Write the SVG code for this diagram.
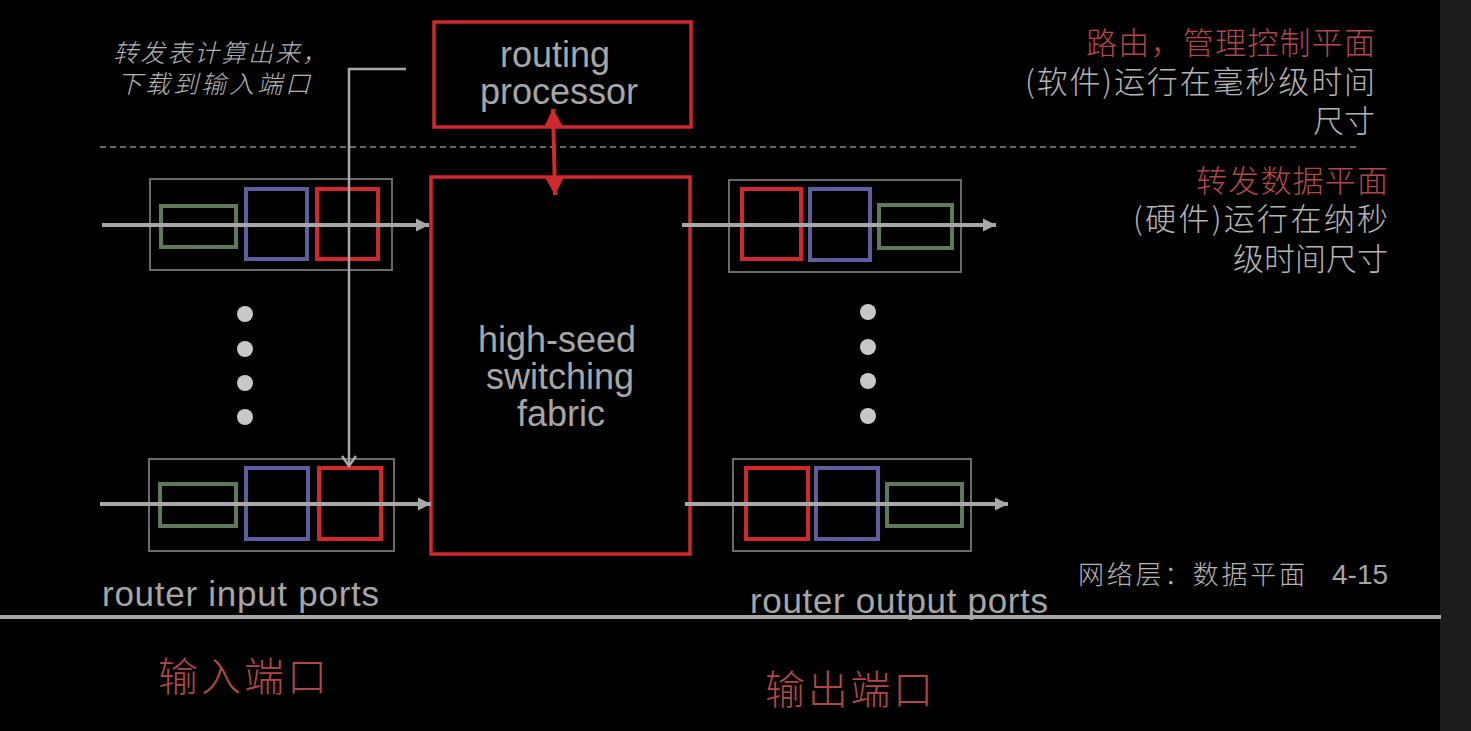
<svg xmlns="http://www.w3.org/2000/svg" width="1471" height="731" viewBox="0 0 1471 731">
<defs>
<style>
.bg{fill:#000}
.en{font-family:"Liberation Sans","Noto Sans CJK SC",Arial,sans-serif;fill:#a6a6a6}
.cj{font-family:"Noto Sans CJK SC","Liberation Sans",sans-serif;font-weight:300}
.gr{fill:#b4b4b4}
.rd{fill:#b04848}
.red{fill:none;stroke:#d0282c;stroke-width:3.5}
.outer{fill:none;stroke:#6a6a6a;stroke-width:2}
.qg{fill:none;stroke:#5e7a5a;stroke-width:4}
.qb{fill:none;stroke:#5e5e9e;stroke-width:4}
.qr{fill:none;stroke:#d0282c;stroke-width:4}
.flow{stroke:#a8a8a8;stroke-width:4;fill:none}
.dot{fill:#c8c8c8}
</style>
<marker id="ga" markerUnits="userSpaceOnUse" markerWidth="16" markerHeight="16" viewBox="0 0 16 16" refX="14" refY="8" orient="auto">
<path d="M1,1.5 L14,8 L1,14.5 Z" fill="#a8a8a8"/>
</marker>
<marker id="ra" markerUnits="userSpaceOnUse" markerWidth="20" markerHeight="20" viewBox="0 0 20 20" refX="17" refY="10" orient="auto-start-reverse">
<path d="M0,1 L17,10 L0,19 Z" fill="#d0282c"/>
</marker>
<marker id="va" markerUnits="userSpaceOnUse" markerWidth="16" markerHeight="16" viewBox="0 0 16 16" refX="14" refY="8" orient="auto">
<path d="M4,1 L14,8 L4,15" fill="none" stroke="#a8a8a8" stroke-width="2.5"/>
</marker>
</defs>
<rect class="bg" x="0" y="0" width="1471" height="731"/>
<rect x="1440" y="0" width="31" height="731" fill="#1c1c1c"/>
<line x1="0" y1="617" x2="1441" y2="617" stroke="#a8a8a8" stroke-width="4"/>
<line x1="100" y1="147" x2="1356" y2="147" stroke="#8a8a8a" stroke-width="1.5" stroke-dasharray="6,4"/>

<g id="annot-left">
<text class="cj gr" font-style="italic" font-size="25" x="113" y="62" textLength="214">转发表计算出来，</text>
<text class="cj gr" font-style="italic" font-size="25" x="117" y="93" textLength="193">下载到输入端口</text>
</g>

<g id="routing-processor">
<rect class="red" x="434" y="22" width="257" height="105"/>
<text class="en" font-size="36" text-anchor="middle" x="555" y="67">routing</text>
<text class="en" font-size="36" text-anchor="middle" x="559" y="104">processor</text>
</g>

<g id="switching-fabric">
<rect class="red" x="431" y="177" width="259" height="377"/>
<text class="en" font-size="36" text-anchor="middle" x="557" y="352">high-seed</text>
<text class="en" font-size="36" text-anchor="middle" x="560" y="389">switching</text>
<text class="en" font-size="36" text-anchor="middle" x="561" y="426">fabric</text>
</g>

<g id="input-port-1">
<rect class="outer" x="150" y="179" width="242" height="91"/>
<rect class="qg" x="161" y="206" width="75" height="41"/>
<rect class="qb" x="246" y="189" width="61" height="70"/>
<rect class="qr" x="317" y="189" width="61" height="70"/>
</g>
<g id="input-port-2">
<rect class="outer" x="149" y="459" width="245" height="92"/>
<rect class="qg" x="160" y="484" width="76" height="42"/>
<rect class="qb" x="246" y="468" width="62" height="71"/>
<rect class="qr" x="319" y="468" width="62" height="71"/>
</g>
<g id="output-port-1">
<rect class="outer" x="729" y="180" width="232" height="92"/>
<rect class="qr" x="742" y="189" width="59" height="70"/>
<rect class="qb" x="810" y="189" width="60" height="71"/>
<rect class="qg" x="879" y="205" width="73" height="43"/>
</g>
<g id="output-port-2">
<rect class="outer" x="733" y="459" width="238" height="92"/>
<rect class="qr" x="746" y="468" width="62" height="71"/>
<rect class="qb" x="816" y="468" width="62" height="71"/>
<rect class="qg" x="887" y="484" width="75" height="42"/>
</g>

<g id="dots">
<circle class="dot" cx="245" cy="314" r="8"/>
<circle class="dot" cx="245" cy="349" r="8"/>
<circle class="dot" cx="245" cy="383" r="8"/>
<circle class="dot" cx="245" cy="417" r="8"/>
<circle class="dot" cx="868" cy="312" r="8"/>
<circle class="dot" cx="868" cy="347" r="8"/>
<circle class="dot" cx="868" cy="381" r="8"/>
<circle class="dot" cx="868" cy="416" r="8"/>
</g>

<g id="connectors">
<line class="flow" x1="102" y1="225" x2="429" y2="225" marker-end="url(#ga)"/>
<line class="flow" x1="100" y1="504" x2="431" y2="504" marker-end="url(#ga)"/>
<line class="flow" x1="682" y1="225" x2="996" y2="225" marker-end="url(#ga)"/>
<line class="flow" x1="685" y1="504" x2="1008" y2="504" marker-end="url(#ga)"/>
<polyline points="406,69 349,69 349,466" fill="none" stroke="#a8a8a8" stroke-width="2.5" marker-end="url(#va)"/>
<line x1="553" y1="109" x2="555" y2="195" stroke="#d0282c" stroke-width="4" marker-start="url(#ra)" marker-end="url(#ra)"/>
</g>

<g id="annot-right">
<text class="cj rd" font-size="31" x="1086" y="54" textLength="289">路由，管理控制平面</text>
<text class="cj gr" font-size="31" x="1025" y="93" textLength="350">(软件)运行在毫秒级时间</text>
<text class="cj gr" font-size="31" text-anchor="end" x="1375" y="132">尺寸</text>
<text class="cj rd" font-size="31" x="1196" y="192" textLength="192">转发数据平面</text>
<text class="cj gr" font-size="31" x="1133" y="230" textLength="255">(硬件)运行在纳秒</text>
<text class="cj gr" font-size="31" text-anchor="end" x="1388" y="270">级时间尺寸</text>
</g>

<g id="labels">
<text class="en" font-size="35" x="102" y="606" textLength="277">router input ports</text>
<text class="en" font-size="35" x="750" y="613" textLength="298">router output ports</text>
<text class="cj rd" font-size="40" x="158" y="691" textLength="169">输入端口</text>
<text class="cj rd" font-size="40" x="765" y="704" textLength="168">输出端口</text>
<text class="cj gr" font-size="26" x="1078" y="584" textLength="227">网络层：数据平面</text>
<text class="en" font-size="28" x="1332" y="584" fill="#b4b4b4">4-15</text>
</g>
</svg>
